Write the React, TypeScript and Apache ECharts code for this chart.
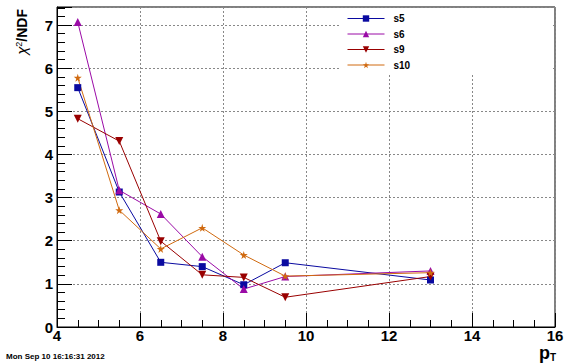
import React, { useEffect, useRef } from "react";
import * as echarts from "echarts";

const xs = [4.5, 5.5, 6.5, 7.5, 8.5, 9.5, 13];
const seriesNames = ["s5", "s6", "s9", "s10"];
const s5 = [5.55, 3.13, 1.5, 1.4, 0.98, 1.49, 1.09];
const s6 = [7.07, 3.17, 2.62, 1.63, 0.88, 1.17, 1.3];
const s9 = [4.83, 4.31, 1.99, 1.21, 1.15, 0.69, 1.17];
const s10 = [5.78, 2.71, 1.81, 2.3, 1.67, 1.18, 1.26];
const xTicks = [4, 6, 8, 10, 12, 14, 16];
const yTicks = [0, 1, 2, 3, 4, 5, 6, 7];

const STAR = "path://M50,0 L61,35 L98,35 L68,57 L79,91 L50,70 L21,91 L32,57 L2,35 L39,35 Z";
const FONT = "'Liberation Sans', Arial, Helvetica, sans-serif";

export default function App() {
  const ref = useRef<HTMLDivElement>(null);
  useEffect(() => {
    if (!ref.current) return;
    const chart = echarts.init(ref.current, null, { renderer: "svg" });
    const values = [s5, s6, s9, s10];
    const colors = ["#0a0aa0", "#9a0aa6", "#990000", "#d06a10"];
    const symbols = ["rect", "triangle", "triangle", STAR];
    const rotates = [0, 0, 180, 0];
    const sizes = [7, 8, 8, 8];
    const series = seriesNames.map((name, i) => ({
      name,
      type: "line",
      data: xs.map((x, j) => [x, values[i][j]]),
      symbol: symbols[i],
      symbolRotate: rotates[i],
      symbolSize: sizes[i],
      showAllSymbol: true,
      itemStyle: { color: colors[i] },
      lineStyle: { color: colors[i], width: 1 },
      z: 3,
    }));
    const grid = { left: 57, top: 7, width: 498, height: 320, show: true, borderColor: "#000", borderWidth: 1, backgroundColor: "transparent" };
    chart.setOption({
      animation: false,
      backgroundColor: "#fff",
      grid,
      xAxis: {
        type: "value",
        min: xTicks[0],
        max: xTicks[xTicks.length - 1],
        interval: 2,
        axisLine: { show: true, lineStyle: { color: "#000", width: 1 } },
        axisTick: { show: true, inside: true, length: 14, lineStyle: { color: "#000" } },
        minorTick: { show: true, splitNumber: 4, length: 7, lineStyle: { color: "#000" } },
        axisLabel: { color: "#000", fontFamily: FONT, fontWeight: "bold", fontSize: 15, margin: 1, verticalAlign: "top" },
        splitLine: { show: true, lineStyle: { color: "#888", type: [2, 2], width: 1 } },
      },
      yAxis: {
        type: "value",
        min: yTicks[0],
        max: 7.42,
        interval: 1,
        axisLine: { show: true, lineStyle: { color: "#000", width: 1 } },
        axisTick: { show: true, inside: true, length: 15, lineStyle: { color: "#000" } },
        minorTick: { show: true, splitNumber: 5, length: 8, lineStyle: { color: "#000" } },
        axisLabel: { color: "#000", fontFamily: FONT, fontWeight: "bold", fontSize: 15, margin: 4, showMaxLabel: false },
        splitLine: { show: true, lineStyle: { color: "#888", type: [2, 2], width: 1 } },
      },
      legend: {
        data: seriesNames,
        orient: "vertical",
        left: 347,
        top: 12.5,
        padding: 0,
        itemWidth: 37,
        itemHeight: 8,
        itemGap: 3.5,
        lineStyle: { width: 1 },
        textStyle: { fontFamily: FONT, fontWeight: "bold", fontSize: 10, lineHeight: 12, color: "#000", padding: [0, 0, 0, 4] },
        z: 5,
      },
      graphic: [
        { type: "rect", shape: { x: 340, y: 8, width: 211, height: 65 }, style: { fill: "#fff" }, z: 1, silent: true },
        {
          type: "text",
          x: 29,
          y: 9,
          rotation: Math.PI / 2,
          style: {
            text: "{c|χ}{s|2}{n|/NDF}",
            align: "right",
            verticalAlign: "bottom",
            rich: {
              c: { fontFamily: FONT, fontSize: 15, fontStyle: "italic", fill: "#000" },
              s: { fontFamily: FONT, fontSize: 9, fill: "#000", verticalAlign: "top", padding: [0, 0, 6, 0] },
              n: { fontFamily: FONT, fontSize: 14, fontWeight: "bold", fill: "#000" },
            },
          },
        },
        {
          type: "text",
          x: 556,
          y: 362,
          style: {
            text: "{p|p}{t|T}",
            align: "right",
            verticalAlign: "bottom",
            rich: {
              p: { fontFamily: FONT, fontSize: 18, fontWeight: "bold", fill: "#000" },
              t: { fontFamily: FONT, fontSize: 10, fontWeight: "bold", fill: "#000", padding: [8, 0, 0, 0] },
            },
          },
        },
        {
          type: "text",
          x: 6,
          y: 356,
          style: { text: "Mon Sep 10 16:16:31 2012", fontFamily: FONT, fontSize: 8, fontWeight: "bold", fill: "#000", verticalAlign: "middle" },
        },
      ],
      series,
    });
    return () => chart.dispose();
  }, []);
  return <div ref={ref} style={{ position: "fixed", left: 0, top: 0, width: 567, height: 364 }} />;
}
